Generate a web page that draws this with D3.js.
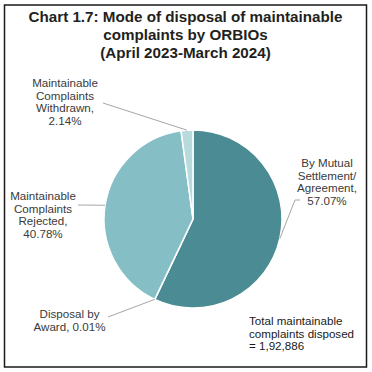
<!DOCTYPE html>
<html>
<head>
<meta charset="utf-8">
<script src="https://cdn.jsdelivr.net/npm/d3@7"></script>
<style>
  body { margin: 0; background: #fff; }
  svg { display: block; font-family: "Liberation Sans", Arial, sans-serif; }
</style>
</head>
<body>
<svg width="372" height="372"></svg>
<script>
// data
var categories = ["By Mutual Settlement/ Agreement", "Disposal by Award", "Maintainable Complaints Rejected", "Maintainable Complaints Withdrawn"];
var shares = [57.07, 0.01, 40.78, 2.14];
var sliceColors = ["#4a8b94", "#4a8b94", "#86bec6", "#b8dadd"];
var titleLines = ["Chart 1.7: Mode of disposal of maintainable", "complaints by ORBIOs", "(April 2023-March 2024)"];
var labelLines = [
    ["By Mutual", "Settlement/", "Agreement,", "57.07%"],
    ["Disposal by", "Award, 0.01%"],
    ["Maintainable", "Complaints", "Rejected,", "40.78%"],
    ["Maintainable", "Complaints", "Withdrawn,", "2.14%"]
];
var totalNote = ["Total maintainable", "complaints disposed", "= 1,92,886"];

var svg = d3.select("svg");

// frame
svg.append("rect")
    .attr("x", 4.5).attr("y", 5)
    .attr("width", 362).attr("height", 362)
    .attr("fill", "none")
    .attr("stroke", "#1a1a1a")
    .attr("stroke-width", 1.5);

// title
svg.append("g")
    .attr("font-weight", "bold")
    .attr("font-size", 15.2)
    .attr("fill", "#231f20")
    .attr("text-anchor", "middle")
    .selectAll("text")
    .data(titleLines)
    .enter().append("text")
    .attr("x", 185.5)
    .attr("y", function(d, i) { return 22 + i * 18; })
    .text(function(d) { return d; });

var cx = 193, cy = 219, radius = 89;

var pie = d3.pie().sort(null).value(function(d) { return d; });
var arcs = pie(shares);
var arc = d3.arc().innerRadius(0).outerRadius(radius);

var g = svg.append("g").attr("transform", "translate(" + cx + "," + cy + ")");

g.selectAll("path")
    .data(arcs)
    .enter().append("path")
    .attr("d", arc)
    .attr("fill", function(d, i) { return sliceColors[i]; })
    .attr("stroke", "#fff")
    .attr("stroke-width", 1.5)
    .attr("stroke-linejoin", "round");

// label positions (text block centre, first baseline) and leader line start
var labelPos = [
    {x: 327, y: 167, lx: 300, ly: 200, bend: [295, 200]},
    {x: 69.5, y: 318, lx: 108, ly: 317, bend: null},
    {x: 43, y: 200, lx: 78, ly: 205, bend: null},
    {x: 65, y: 87, lx: 103, ly: 103, bend: null}
];

// leader lines: end on the pie edge, at the slice middle (award: at its start)
arcs.forEach(function(d, i) {
    var p = labelPos[i];
    var a = i === 1 ? d.startAngle : (d.startAngle + d.endAngle) / 2;
    var ex = cx + radius * Math.sin(a), ey = cy - radius * Math.cos(a);
    var pts = [[p.lx, p.ly]];
    if (p.bend) pts.push(p.bend);
    pts.push([ex, ey]);
    svg.append("path")
        .attr("d", d3.line()(pts))
        .attr("fill", "none")
        .attr("stroke", "#a6a6a6")
        .attr("stroke-width", 1);
});

// slice labels
labelLines.forEach(function(lines, i) {
    var p = labelPos[i];
    svg.append("g")
        .attr("font-size", 11.6)
        .attr("fill", "#3a3a3a")
        .attr("text-anchor", "middle")
        .selectAll("text")
        .data(lines)
        .enter().append("text")
        .attr("x", p.x)
        .attr("y", function(d, j) { return p.y + j * 12.6; })
        .text(function(d) { return d; });
});

// total note
svg.append("g")
    .attr("font-size", 11.6)
    .attr("fill", "#1a1a1a")
    .selectAll("text")
    .data(totalNote)
    .enter().append("text")
    .attr("x", 249)
    .attr("y", function(d, i) { return 325 + i * 12.6; })
    .text(function(d) { return d; });
</script>
</body>
</html>
